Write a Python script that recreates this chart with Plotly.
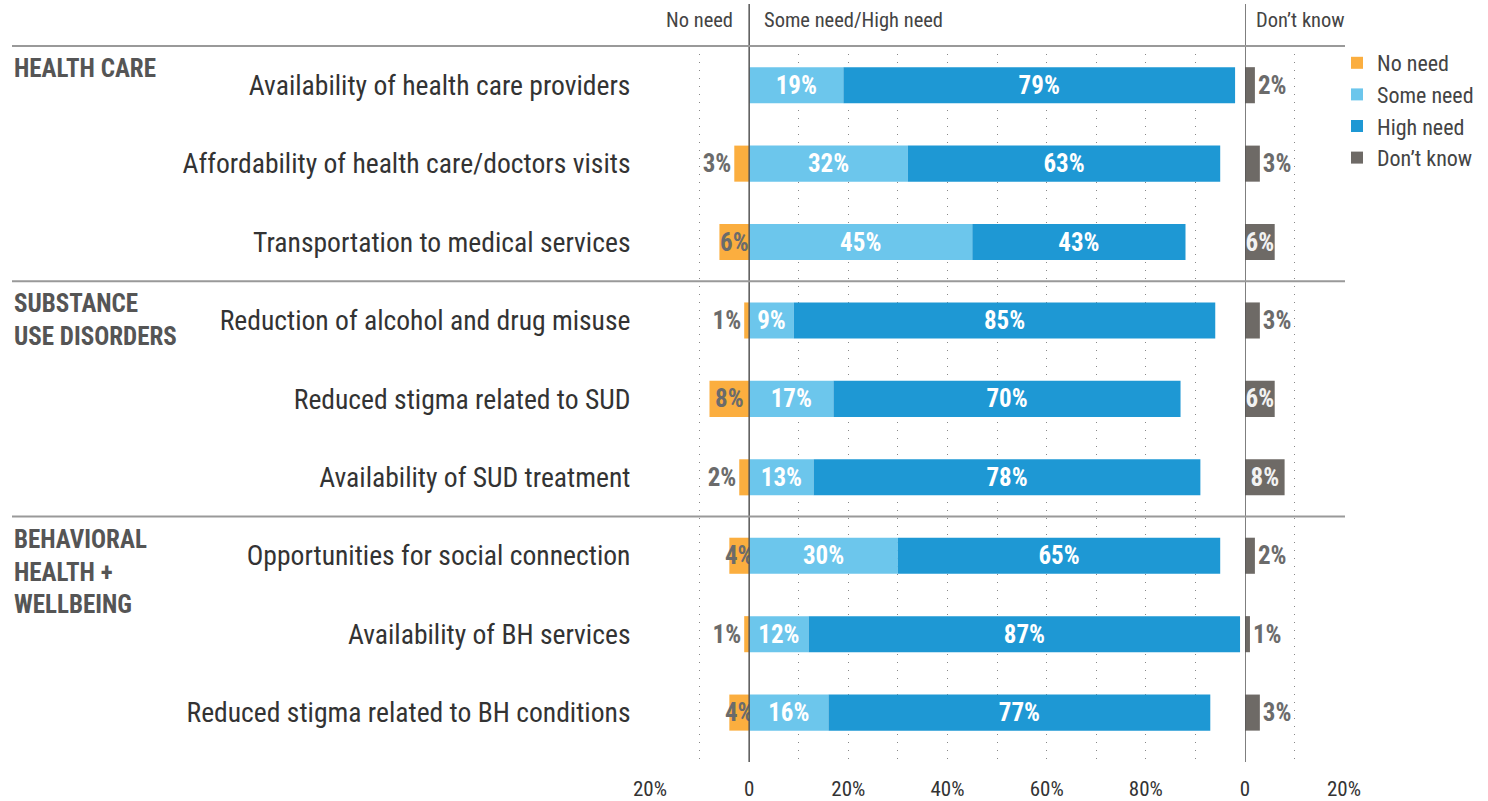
import plotly.graph_objects as go

categories = [
    "Availability of health care providers",
    "Affordability of health care/doctors visits",
    "Transportation to medical services",
    "Reduction of alcohol and drug misuse",
    "Reduced stigma related to SUD",
    "Availability of SUD treatment",
    "Opportunities for social connection",
    "Availability of BH services",
    "Reduced stigma related to BH conditions",
]
no_need = [0, 3, 6, 1, 8, 2, 4, 1, 4]
some_need = [19, 32, 45, 9, 17, 13, 30, 12, 16]
high_need = [79, 63, 43, 85, 70, 78, 65, 87, 77]
dont_know = [2, 3, 6, 3, 6, 8, 2, 1, 3]
groups = ["HEALTH CARE", "SUBSTANCE<br>USE DISORDERS", "BEHAVIORAL<br>HEALTH +<br>WELLBEING"]
group_start = [0, 3, 6]
main_tickvals = [-20, 0, 20, 40, 60, 80]
main_ticktext = ["20%", "0", "20%", "40%", "60%", "80%"]
dk_tickvals = [0, 20]
dk_ticktext = ["0", "20%"]

FONT = "Roboto Condensed, Liberation Sans Narrow, DejaVu Sans Condensed, Roboto, sans-serif"
C_NO = "#FBAE3F"
C_SOME = "#6CC6EC"
C_HIGH = "#1E98D4"
C_DK = "#6E6A66"
TXT_GREY = "#6B6B6B"

W, H = 1488, 801
X0, XZ, XD0, XD1 = 650, 750, 1245, 1344
Y_TOP, Y_BOT = 46, 762
Y_RANGE = [8.63, -0.5]

ypos = list(range(len(categories)))
bw = 0.46
LBL = 25


def row_to_paper(r):
    px = Y_TOP + (r - Y_RANGE[1]) / (Y_RANGE[0] - Y_RANGE[1]) * (Y_BOT - Y_TOP)
    return 1 - px / H


fig = go.Figure()

fig.add_trace(go.Bar(
    name="No need", y=ypos, x=[-v for v in no_need], orientation="h",
    marker=dict(color=C_NO, line=dict(width=0)), width=bw,
    text=[f"{v}%" if v > 0 else "" for v in no_need],
    textposition=["inside" if v >= 4 else "outside" for v in no_need],
    textangle=0, constraintext="none", insidetextanchor="middle",
    textfont=dict(family=FONT, size=LBL, color=TXT_GREY, weight="bold"),
    cliponaxis=False, xaxis="x", yaxis="y",
))
fig.add_trace(go.Bar(
    name="Some need", y=ypos, x=some_need, orientation="h",
    marker=dict(color=C_SOME, line=dict(width=0)), width=bw,
    text=[f"{v}%" for v in some_need], textposition="inside",
    textangle=0, constraintext="none", insidetextanchor="middle",
    textfont=dict(family=FONT, size=LBL, color="white", weight="bold"),
    xaxis="x", yaxis="y",
))
fig.add_trace(go.Bar(
    name="High need", y=ypos, x=high_need, orientation="h",
    marker=dict(color=C_HIGH, line=dict(width=0)), width=bw,
    text=[f"{v}%" for v in high_need], textposition="inside",
    textangle=0, constraintext="none", insidetextanchor="middle",
    textfont=dict(family=FONT, size=LBL, color="white", weight="bold"),
    xaxis="x", yaxis="y",
))
fig.add_trace(go.Bar(
    name="Don\u2019t know", y=ypos, x=dont_know, orientation="h",
    marker=dict(color=C_DK, line=dict(width=0)), width=bw,
    text=[f"{v}%" for v in dont_know],
    textposition=["inside" if v >= 6 else "outside" for v in dont_know],
    textangle=0, constraintext="none", insidetextanchor="middle",
    insidetextfont=dict(family=FONT, size=LBL, color="#F2F2F2", weight="bold"),
    outsidetextfont=dict(family=FONT, size=LBL, color=TXT_GREY, weight="bold"),
    cliponaxis=False, xaxis="x2", yaxis="y",
))

grid_common = dict(showgrid=True, griddash="1px,7px", gridcolor="#888888", gridwidth=1)

fig.update_layout(
    width=W, height=H,
    margin=dict(l=0, r=0, t=0, b=0, autoexpand=False),
    paper_bgcolor="white", plot_bgcolor="white",
    barmode="relative",
    font=dict(family=FONT, color="#333333"),
    showlegend=True,
    legend=dict(
        x=1337 / W, y=1 - 42 / H, xanchor="left", yanchor="top",
        traceorder="normal", font=dict(family=FONT, size=22, color="#444444"),
        bgcolor="rgba(0,0,0,0)", itemclick=False,
    ),
    xaxis=dict(
        domain=[X0 / W, XD0 / W], range=[-20, 100], anchor="y",
        tickmode="array", tickvals=main_tickvals, ticktext=main_ticktext,
        showgrid=False, zeroline=False, showline=False, automargin=False,
        ticks="outside", ticklen=8, tickcolor="rgba(0,0,0,0)",
        tickfont=dict(family=FONT, size=21, color="#333333"),
        minor=dict(tickmode="array", tickvals=[-20, -10, 10, 20, 30, 40, 50, 60, 70, 80, 90],
                   ticks="", **grid_common),
        fixedrange=True,
    ),
    xaxis2=dict(
        domain=[XD0 / W, XD1 / W], range=[0, 20], anchor="y",
        tickmode="array", tickvals=dk_tickvals, ticktext=dk_ticktext,
        showgrid=False, zeroline=False, showline=False, automargin=False,
        ticks="outside", ticklen=8, tickcolor="rgba(0,0,0,0)",
        tickfont=dict(family=FONT, size=21, color="#333333"),
        minor=dict(tickmode="array", tickvals=[10, 20], ticks="", **grid_common),
        fixedrange=True,
    ),
    yaxis=dict(
        domain=[1 - Y_BOT / H, 1 - Y_TOP / H], range=Y_RANGE, anchor="x",
        tickmode="array", tickvals=ypos, ticktext=categories,
        showgrid=False, zeroline=False, showline=False, automargin=False,
        ticks="outside", ticklen=13, tickcolor="rgba(0,0,0,0)",
        tickfont=dict(family=FONT, size=27.6, color="#333333"),
        fixedrange=True,
    ),
)

shapes = []
for xr in ["x", "x2"]:
    shapes.append(dict(type="line", xref=xr, x0=0, x1=0, yref="paper",
                       y0=1 - Y_BOT / H, y1=1 - 4 / H, line=dict(color="#555555", width=1.5)))
for s in group_start:
    yp = row_to_paper(s - 0.5)
    shapes.append(dict(type="line", xref="paper", x0=12 / W, x1=1345 / W, yref="paper",
                       y0=yp, y1=yp, line=dict(color="#999999", width=2)))
fig.update_layout(shapes=shapes)

ann = []
for g, s in zip(groups, group_start):
    ann.append(dict(text=g, xref="paper", x=12 / W, xanchor="left", yref="paper",
                    y=row_to_paper(s - 0.5), yanchor="top", yshift=-6, showarrow=False,
                    align="left",
                    font=dict(family=FONT, size=25, color="#555555", weight="bold")))
hdr_y = 1 - 20 / H
HF = dict(family=FONT, size=20.5, color="#444444")
ann.append(dict(text="No need", xref="x", x=0, xanchor="right", xshift=-14, yref="paper", y=hdr_y,
                yanchor="middle", showarrow=False, font=HF))
ann.append(dict(text="Some need/High need", xref="x", x=0, xanchor="left", xshift=13, yref="paper", y=hdr_y,
                yanchor="middle", showarrow=False, font=HF))
ann.append(dict(text="Don\u2019t know", xref="x2", x=0, xanchor="left", xshift=9, yref="paper", y=hdr_y,
                yanchor="middle", showarrow=False, font=HF))
fig.update_layout(annotations=ann)

fig.write_html("out.html", config={"displayModeBar": False})
